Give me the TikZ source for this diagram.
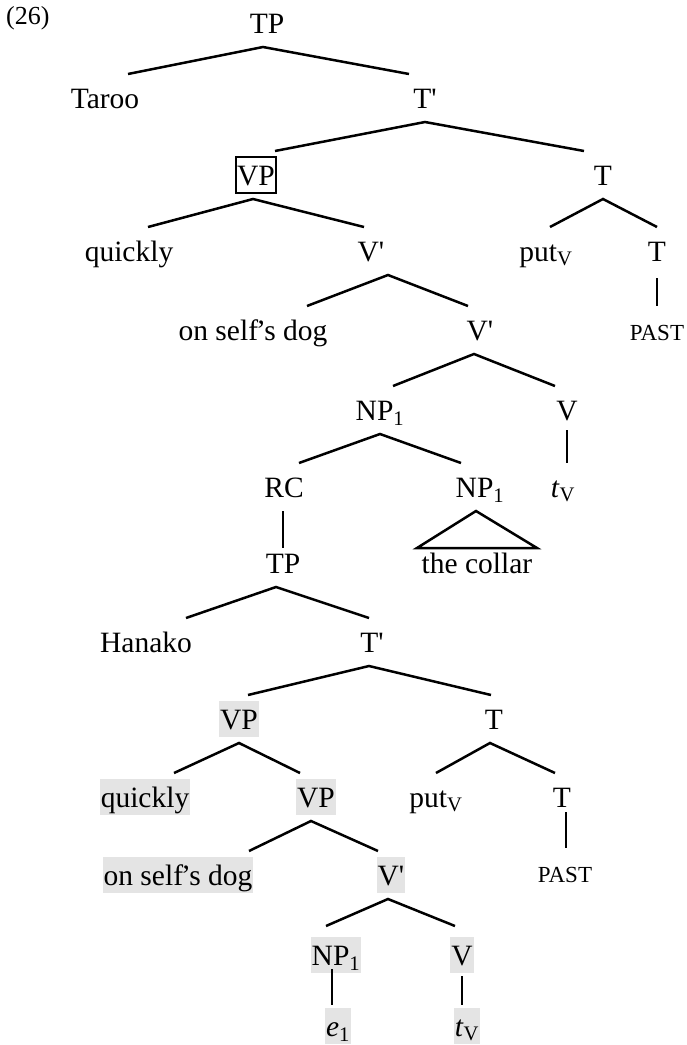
\documentclass[tikz,border=0pt]{standalone}
\usepackage{fontspec}
\setmainfont{Liberation Serif}
\newcommand\myprime{\textquotesingle}
\newcommand\selfs{self\kern-2pt’s}
\definecolor{shadegray}{RGB}{228,228,228}
\tikzset{
  lab/.style={anchor=base,inner xsep=1pt,inner ysep=0pt,text height=28pt,text depth=8pt,outer ysep=6pt,font=\fontsize{29.5}{36}\selectfont},
  small/.style={lab,font=\fontsize{23}{28}\selectfont},
  shade/.style={lab,fill=shadegray},
  boxed/.style={lab,draw,line width=1.3pt},
  edge/.style={line width=2.5pt},
}
\begin{document}
\begin{tikzpicture}[x=1pt,y=1pt]
\useasboundingbox (0,0) rectangle (687,-1045);
\node[anchor=base west,inner sep=0pt,font=\fontsize{26}{30}\selectfont] (ex) at (6,-24) {(26)};
% upper tree
\node[lab] (tp0) at (267,-33) {TP};
\node[lab] (taroo) at (105,-108) {Taroo};
\node[lab] (tbar0) at (425,-108) {T\myprime};
\node[boxed] (vp0) at (256,-185) {VP};
\node[lab] (t0) at (603,-185) {T};
\node[lab] (quick0) at (129,-261) {quickly};
\node[lab] (vbar0) at (371,-261) {V\myprime};
\node[lab] (put0) at (546,-261) {put\textsubscript{V}};
\node[lab] (t0b) at (657,-261) {T};
\node[lab] (self0) at (253,-340) {on \selfs{} dog};
\node[lab] (vbar0b) at (480,-340) {V\myprime};
\node[small] (past0) at (657,-340) {PAST};
\node[lab] (np0) at (380,-420) {NP\textsubscript{1}};
\node[lab] (v0) at (567,-420) {V};
\node[lab] (rc) at (284,-497) {RC};
\node[lab] (np0b) at (480,-497) {NP\textsubscript{1}};
\node[lab] (tv0) at (563,-497) {\textit{t}\textsubscript{V}};
\node[lab] (tp1) at (283,-573) {TP};
\node[lab] (collar) at (477,-573) {the collar};
% lower tree
\node[lab] (hanako) at (146,-652) {Hanako};
\node[lab] (tbar1) at (372,-652) {T\myprime};
\node[shade] (vp1) at (239,-729) {VP};
\node[lab] (t1) at (494,-729) {T};
\node[shade] (quick1) at (145,-807) {quickly};
\node[shade] (vp2) at (316,-807) {VP};
\node[lab] (put1) at (436,-807) {put\textsubscript{V}};
\node[lab] (t1b) at (562,-807) {T};
\node[shade] (self1) at (178,-885) {on \selfs{} dog};
\node[shade] (vbar1) at (391,-885) {V\myprime};
\node[small] (past1) at (565,-882) {PAST};
\node[shade] (np1) at (336,-965) {NP\textsubscript{1}};
\node[shade] (v1) at (462,-965) {V};
\node[shade] (e1) at (338,-1036) {\textit{e}\textsubscript{1}};
\node[shade] (tv1) at (467,-1036) {\textit{t}\textsubscript{V}};
% edges upper
\draw[edge] ([xshift=23pt]taroo.north) -- ([xshift=-4pt]tp0.south) -- ([xshift=-16pt]tbar0.north);
\draw[edge] ([xshift=19pt]vp0.north) -- (tbar0.south) -- ([xshift=-19pt]t0.north);
\draw[edge] ([xshift=19pt]quick0.north) -- ([xshift=-3pt]vp0.south) -- ([xshift=-7pt]vbar0.north);
\draw[edge] ([xshift=4pt]put0.north) -- (t0.south) -- (t0b.north);
\draw[edge] ([yshift=-3pt]t0b.south) -- (t0b.south |- past0.north);
\draw[edge] ([xshift=54pt]self0.north) -- ([xshift=17pt]vbar0.south) -- ([xshift=-12pt]vbar0b.north);
\draw[edge] ([xshift=13pt]np0.north) -- ([xshift=-6pt]vbar0b.south) -- ([xshift=-12pt]v0.north);
\draw[edge] ([yshift=4pt]v0.south) -- (v0.south |- tv0.north);
\draw[edge] ([xshift=15pt]rc.north) -- (np0.south) -- ([xshift=-19pt]np0b.north);
\draw[edge] ([xshift=-1pt]rc.south) -- ([xshift=-1pt,yshift=-9pt]rc.south |- tp1.north);
\draw[edge,line join=miter] ([xshift=-4pt]np0b.south) -- ([xshift=-60pt,yshift=-9pt]collar.north) -- ([xshift=60pt,yshift=-9pt]collar.north) -- cycle;
% edges lower
\draw[edge] ([xshift=40pt]hanako.north) -- ([xshift=-7pt]tp1.south) -- ([xshift=-3pt]tbar1.north);
\draw[edge] ([xshift=9pt]vp1.north) -- ([xshift=-3pt]tbar1.south) -- ([xshift=-3pt]t1.north);
\draw[edge] ([xshift=29pt]quick1.north) -- (vp1.south) -- ([xshift=-16pt]vp2.north);
\draw[edge] (put1.north) -- ([xshift=-4pt]t1.south) -- ([xshift=-7pt]t1b.north);
\draw[edge] ([xshift=4pt,yshift=9pt]t1b.south) -- ([xshift=4pt]t1b.south |- past1.north);
\draw[edge] ([xshift=71pt]self1.north) -- ([xshift=-5pt]vp2.south) -- ([xshift=-13pt]vbar1.north);
\draw[edge] ([xshift=-10pt,yshift=5pt]np1.north) -- ([xshift=-3pt]vbar1.south) -- ([xshift=-7pt,yshift=5pt]v1.north);
\draw[edge] ([xshift=-4pt,yshift=10pt]np1.south) -- ([xshift=-4pt,yshift=-3pt]np1.south |- e1.north);
\draw[edge] ([yshift=3pt]v1.south) -- ([yshift=-3pt]v1.south |- tv1.north);
\end{tikzpicture}
\end{document}
